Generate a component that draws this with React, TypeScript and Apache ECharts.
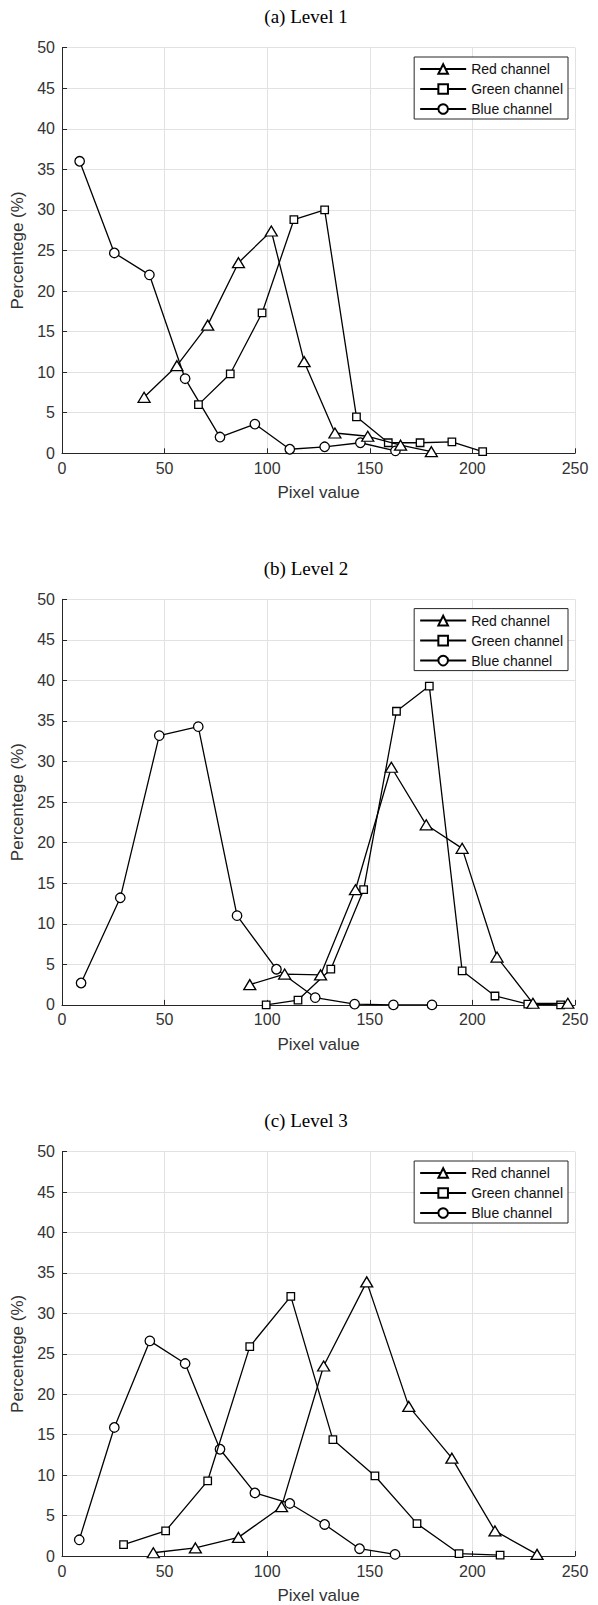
import React, { useEffect, useRef } from "react";
import * as echarts from "echarts";

const seriesNames = ["Red channel", "Green channel", "Blue channel"];
const panelTitles = ["(a) Level 1", "(b) Level 2", "(c) Level 3"];
const xTicks = [0, 50, 100, 150, 200, 250];
const yTicks = [0, 5, 10, 15, 20, 25, 30, 35, 40, 45, 50];

// Level 1
const redX1 = [40, 56, 71, 86, 102, 118, 133, 149, 165, 180];
const redY1 = [6.9, 10.8, 15.8, 23.5, 27.4, 11.3, 2.5, 2.1, 1.0, 0.2];
const greenX1 = [66.5, 82, 97.5, 113, 128, 143.5, 159, 174.5, 190, 205];
const greenY1 = [6.0, 9.8, 17.3, 28.8, 30.0, 4.5, 1.3, 1.3, 1.4, 0.2];
const blueX1 = [8.6, 25.5, 42.6, 60, 77, 94, 111, 128, 145.4, 162.5];
const blueY1 = [36.0, 24.7, 22.0, 9.2, 2.0, 3.6, 0.5, 0.8, 1.3, 0.3];

// Level 2
const redX2 = [91.5, 108.5, 126, 143, 160.5, 177.5, 195, 212, 229.5, 246.5];
const redY2 = [2.5, 3.8, 3.7, 14.2, 29.3, 22.2, 19.3, 5.9, 0.2, 0.2];
const greenX2 = [99.5, 115, 131, 147, 163, 179, 195, 211, 227, 243];
const greenY2 = [0, 0.6, 4.4, 14.2, 36.2, 39.3, 4.2, 1.1, 0.1, 0];
const blueX2 = [9.3, 28.4, 47.4, 66.4, 85.3, 104.5, 123.4, 142.6, 161.5, 180.3];
const blueY2 = [2.7, 13.2, 33.2, 34.3, 11.0, 4.4, 0.9, 0.1, 0, 0];

// Level 3
const redX3 = [44.5, 65, 86, 107, 127.5, 148.5, 169, 190, 211, 231.5];
const redY3 = [0.4, 1.0, 2.3, 6.1, 23.5, 33.9, 18.5, 12.1, 3.1, 0.2];
const greenX3 = [30, 50.5, 71, 91.5, 111.5, 132, 152.5, 173, 193.5, 213.5];
const greenY3 = [1.4, 3.1, 9.3, 25.9, 32.1, 14.4, 9.9, 4.0, 0.3, 0.1];
const blueX3 = [8.4, 25.5, 42.8, 60, 77, 94, 111, 128, 145, 162.3];
const blueY3 = [2.0, 15.9, 26.6, 23.8, 13.2, 7.8, 6.5, 3.9, 0.9, 0.2];

const panels = [
  [[redX1, redY1], [greenX1, greenY1], [blueX1, blueY1]],
  [[redX2, redY2], [greenX2, greenY2], [blueX2, blueY2]],
  [[redX3, redY3], [greenX3, greenY3], [blueX3, blueY3]],
];

const gridTops = [47.7, 599.3, 1151.7];
const gridHeight = 405.6;
const symbols = ["triangle", "rect", "circle"];
const symbolSizes: any[] = [[12, 10], 7.5, 9.5];

const AX = "#262626";
const LBL = "#333333";
const GRID = "#e2e2e2";
const SANS = "'Liberation Sans', Arial, Helvetica, sans-serif";

export default function App() {
  const ref = useRef<HTMLDivElement>(null);
  useEffect(() => {
    document.body.style.margin = "0";
    const chart = echarts.init(ref.current!, null, { renderer: "svg" });
    const grid: any[] = [];
    const xAxis: any[] = [];
    const yAxis: any[] = [];
    const series: any[] = [];
    const legend: any[] = [];
    const graphic: any[] = [];
    panels.forEach((panel, p) => {
      grid.push({ left: 62, right: 23, top: gridTops[p], height: gridHeight });
      xAxis.push({
        type: "value",
        gridIndex: p,
        min: xTicks[0],
        max: xTicks[xTicks.length - 1],
        interval: 50,
        name: "Pixel value",
        nameLocation: "middle",
        nameGap: 31,
        nameTextStyle: { fontFamily: SANS, fontSize: 17, color: LBL },
        axisLine: { show: true, lineStyle: { color: AX, width: 1 } },
        axisTick: { show: true, inside: true, length: 5, lineStyle: { color: AX } },
        axisLabel: { fontFamily: SANS, fontSize: 16, color: LBL, margin: 7 },
        splitLine: { show: true, lineStyle: { color: GRID, width: 1 } },
      });
      yAxis.push({
        type: "value",
        gridIndex: p,
        min: yTicks[0],
        max: yTicks[yTicks.length - 1],
        interval: 5,
        name: "Percentege (%)",
        nameLocation: "middle",
        nameRotate: 90,
        nameGap: 32,
        nameTextStyle: { fontFamily: SANS, fontSize: 17, color: LBL },
        axisLine: { show: true, lineStyle: { color: AX, width: 1 } },
        axisTick: { show: true, inside: true, length: 5, lineStyle: { color: AX } },
        axisLabel: { fontFamily: SANS, fontSize: 16, color: LBL, margin: 7 },
        splitLine: { show: true, lineStyle: { color: GRID, width: 1 } },
      });
      panel.forEach(([xs, ys], s) => {
        series.push({
          type: "line",
          name: seriesNames[s],
          xAxisIndex: p,
          yAxisIndex: p,
          data: xs.map((x, i) => [x, ys[i]]),
          symbol: symbols[s],
          symbolSize: symbolSizes[s],
          showAllSymbol: true,
          lineStyle: { color: "#000", width: 1.3 },
          itemStyle: { color: "#fff", borderColor: "#000", borderWidth: 1.3 },
          emphasis: { disabled: true },
          z: 3 - s,
        });
      });
      legend.push({
        data: seriesNames,
        orient: "vertical",
        right: 30,
        top: gridTops[p] + 9.3,
        itemWidth: 46,
        itemHeight: 12,
        itemGap: 6,
        padding: [5, 5, 3, 5],
        borderColor: AX,
        borderWidth: 1,
        backgroundColor: "#fff",
        selectedMode: false,
        textStyle: { fontFamily: SANS, fontSize: 14, color: "#111", lineHeight: 14 },
      });
      graphic.push({
        type: "text",
        x: 306,
        y: gridTops[p] - 31,
        style: {
          text: panelTitles[p],
          fontFamily: "'Liberation Serif', 'Times New Roman', serif",
          fontSize: 19,
          fill: "#000",
          textAlign: "center",
          textVerticalAlign: "middle",
        },
      });
    });
    chart.setOption({
      animation: false,
      backgroundColor: "#fff",
      grid,
      xAxis,
      yAxis,
      series,
      legend,
      graphic,
    });
    return () => chart.dispose();
  }, []);
  return (
    <div
      ref={ref}
      style={{ position: "absolute", left: 0, top: 0, width: 598, height: 1605 }}
    />
  );
}
